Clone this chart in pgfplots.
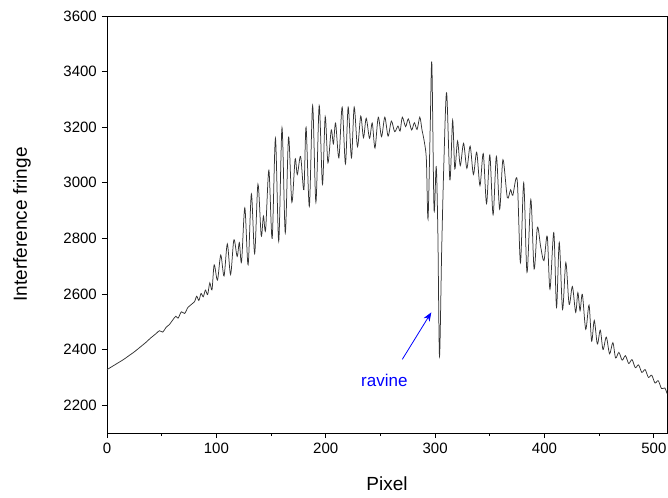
\documentclass[border=0pt]{standalone}
\usepackage{pgfplots}
\pgfplotsset{compat=1.18}
\usepackage{fontspec}
\setmainfont{Liberation Sans}
\usetikzlibrary{arrows.meta}
\begin{document}
\fontsize{15}{18}\selectfont
\begin{tikzpicture}
\begin{axis}[
  at={(0,0)}, anchor=south west,
  width=560pt, height=417pt, scale only axis,
  xmin=0, xmax=512, ymin=2100, ymax=3600,
  xtick={0,100,...,500}, minor xtick={50,150,...,450},
  ytick={2200,2400,...,3600},
  tick align=outside, xtick pos=left, ytick pos=left,
  major tick length=5pt, minor tick length=3pt,
  axis line style={line width=0.8pt},
  every tick/.style={line width=0.8pt, black},
  /pgf/number format/assume math mode=true,
  /pgf/number format/1000 sep={},
  ticklabel style={font=\fontsize{15}{18}\selectfont},
  xlabel={Pixel}, ylabel={Interference fringe},
  every axis x label/.style={at={(axis description cs:0.5,-0.122)}, anchor=center, font=\fontsize{19}{22}\selectfont},
  every axis y label/.style={at={(axis description cs:-0.152,0.5)}, rotate=90, anchor=center, font=\fontsize{19}{22}\selectfont},
  clip=false,
]
\addplot[black!80, line width=0.75pt, smooth, tension=0.5] table {
x y
0 2328
5 2340
10 2352
15 2364
20 2378
25 2392
30 2408
35 2424
40 2442
45 2458
48 2468
51 2463
54 2480
57 2490
60 2506
63 2520
65 2513
68 2536
71 2530
74 2552
77 2562
80 2572
82 2592
84 2577
86 2602
88 2590
90 2614
92 2598
94 2640
96 2615
98 2705
101 2650
104 2740
107 2665
110 2780
113 2670
116 2795
119 2735
121 2785
123 2715
126 2910
129 2705
132 2960
135 2745
138 2995
141 2810
143 2880
145 2830
148 3045
151 2800
154 3160
157 2790
160 3198
163 2820
166 3165
169 2930
172 3085
174 3030
177 3095
180 2975
182 3200
185 2915
188 3278
191 2930
194 3278
197 2995
199.5 3238
202 3072
205 3190
207 3140
209 3215
212 3090
215 3272
218 3068
220.5 3272
223.5 3090
226 3272
229 3130
232 3240
234.5 3162
237 3232
240 3160
242.5 3215
245 3125
248 3236
251 3166
254 3236
257 3168
260 3222
263 3184
266 3204
268 3186
270 3236
273 3202
275.5 3230
278.5 3190
281 3216
283.5 3192
286 3236
288 3190
290 3150
292 3083
293.5 2870
295.5 3200
297 3430
299 2905
301 3058
302.5 2820
304 2376
306 2760
308 3072
310.5 3324
313.5 3010
316 3225
318 3050
320.5 3150
323 3062
326 3142
329 3052
332 3132
335 3030
338 3110
341 2990
344 3105
347 2925
350 3100
353 2885
356 3095
359 2905
362 3083
366 2947
369 2975
371 2955
375 3011
378 2713
381 3000
384 2678
387.5 2940
390.5 2690
393.5 2840
396.5 2770
399.5 2720
402.5 2808
405 2617
408.5 2821
411 2552
413.5 2785
416.5 2545
419.5 2713
422.5 2563
425.5 2627
428.5 2534
430.5 2605
432.5 2540
434.6 2599
437.7 2473
440.7 2560
443.1 2430
445.5 2505
448.3 2420
451 2470
453.5 2400
456.5 2445
459.5 2385
462.5 2425
465 2370
468 2390
471 2362
474 2378
477 2350
480 2364
483 2335
486 2345
489 2318
492 2328
495 2300
498 2308
501 2280
504 2288
507 2260
510 2262
512 2242
};
\draw[blue, line width=0.8pt, -{Stealth[length=9pt,width=7pt]}] (axis cs:270,2365) -- (axis cs:296.5,2534);
\node[blue, font=\fontsize{17}{20}\selectfont] at (axis cs:253.6,2290) {ravine};
\end{axis}
\pgfresetboundingbox
\path (-107pt,-64pt) rectangle (561pt,433pt);
\end{tikzpicture}
\end{document}
